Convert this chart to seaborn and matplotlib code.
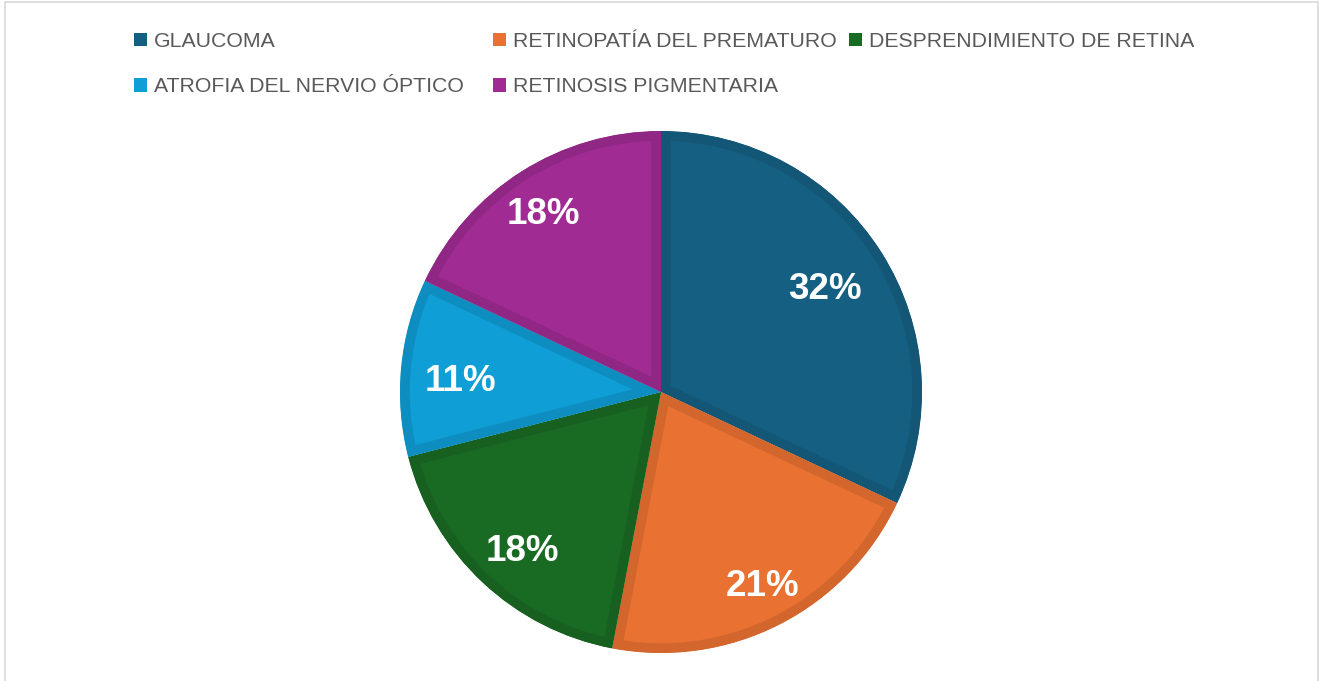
import matplotlib
matplotlib.use("Agg")
import numpy as np
import matplotlib.pyplot as plt
import seaborn as sns
from matplotlib.patches import Rectangle, Patch
from matplotlib.colors import to_rgb

categories = ["GLAUCOMA", "RETINOPATÍA DEL PREMATURO", "DESPRENDIMIENTO DE RETINA",
              "ATROFIA DEL NERVIO ÓPTICO", "RETINOSIS PIGMENTARIA"]
values = [32, 21, 18, 11, 18]
colors = ["#156082", "#E97132", "#196B24", "#0F9ED5", "#A02B93"]
# label placement ("best fit"-like): radial distance and angular nudge per slice
label_dist = [0.74, 0.84, 0.81, 0.77, 0.815]
label_nudge = [-0.3, 0.7, 2.2, 2.4, 1.1]

sns.set_theme(style="white")
plt.rcParams["font.family"] = ["Liberation Sans", "DejaVu Sans"]

W, H = 1319, 681
fig = plt.figure(figsize=(W / 100, H / 100), dpi=100)
fig.patch.set_facecolor("white")

cx, cy, r = 661, 392, 261
ax = fig.add_axes([(cx - r) / W, (H - cy - r) / H, 2 * r / W, 2 * r / H])

pal = sns.color_palette(colors)
edges = [tuple(c * 0.9 for c in to_rgb(col)) for col in pal]

wedges, texts, autotexts = ax.pie(
    values, colors=pal, startangle=90, counterclock=False,
    autopct="%1.0f%%", pctdistance=0.74, radius=1,
    wedgeprops=dict(linewidth=14, edgecolor="none"),
    textprops=dict(color="white", fontsize=26.5, fontweight="bold"))
for w, ec, t, d, nud in zip(wedges, edges, autotexts, label_dist, label_nudge):
    w.set_edgecolor(ec)
    w.set_clip_on(True)
    w.set_clip_path(w)
    ang = np.deg2rad((w.theta1 + w.theta2) / 2 + nud)
    t.set_position((d * np.cos(ang), d * np.sin(ang)))
ax.set_xlim(-1, 1)
ax.set_ylim(-1, 1)
ax.set_aspect("equal")
ax.axis("off")

# Legend in three columns
handles = [Patch(facecolor=c, edgecolor="none") for c in pal]
cols = [([0, 3], 134), ([1, 4], 493), ([2], 849)]
for idxs, x in cols:
    fig.legend([handles[i] for i in idxs], [categories[i] for i in idxs],
               loc="upper left", bbox_to_anchor=(x / W, 1 - 32 / H),
               frameon=False, fontsize=15.3, handlelength=0.62, handleheight=0.62,
               handletextpad=0.3, labelspacing=1.23, borderpad=0, borderaxespad=0,
               labelcolor="#595959")

# Outer frame
fig.patches.append(Rectangle((4.5 / W, -0.02), (1318 - 4.5) / W, 1 - 1.5 / H + 0.02,
                             transform=fig.transFigure, fill=False,
                             edgecolor="#d9d9d9", linewidth=1.2))

fig.savefig("out.png", dpi=100, facecolor="white")
